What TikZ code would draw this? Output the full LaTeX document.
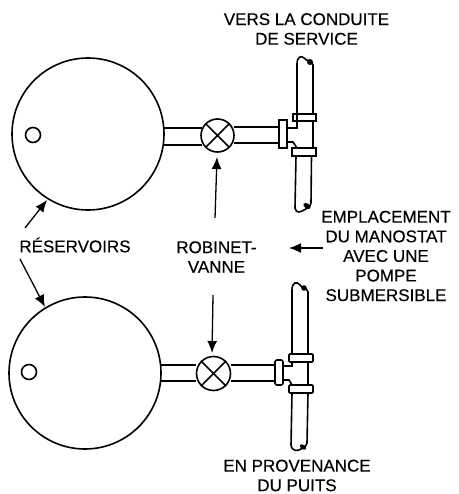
\documentclass[tikz,border=0pt]{standalone}
\usepackage{fontspec}
\setmainfont[FakeBold=0.25]{Liberation Sans}
\usetikzlibrary{arrows.meta}
\begin{document}
\begin{tikzpicture}[x=1pt,y=-1pt,
  ink/.style={draw=black,line width=1.6pt},
  lbl/.style={font=\fontsize{17}{19.6}\selectfont,align=center,inner sep=0pt,text=black},
  lead/.style={draw=black,line width=1.3pt,-{Latex[length=12pt,width=10pt]}}]
\useasboundingbox (0,0) rectangle (458,494);
% top assembly
\node[ink,circle,minimum size=152pt,inner sep=0pt] (t1) at (88,134) {};
\node[ink,circle,minimum size=15pt,inner sep=0pt] (t1h) at (33,135) {};
\node[ink,circle,minimum size=33pt,inner sep=0pt] (v1) at (217.5,135.5) {};
\draw[ink] (v1.north west)--(v1.south east) (v1.north east)--(v1.south west);
\draw[ink] (164,128)--(202,128) (164,145)--(202,145) (234,127)--(279,127) (234,143)--(279,143);
\draw[ink] (279,120) rectangle (287,148);
\draw[ink] (287,128)--(297,128)--(297,115) (287,142)--(293,142)--(297,148);
\draw[ink] (293,114) rectangle (316,121) (292,148) rectangle (316,156);
\draw[ink] (297,114)--(297,64) .. controls (297,57) and (301,55) .. (304,58) .. controls (306,61) and (311,60) .. (313,65)--(313,114);
\draw[ink] (313,121)--(313,148) (311.5,156)--(311,203) (296,156)--(295,208) .. controls (296,214) and (301,212) .. (304,210) .. controls (307,209) and (310,207) .. (311,203);
\fill (310,62) circle (3pt);
\fill[rotate around={-35:(307,206)}] (307,206) ellipse (4pt and 2.5pt);
% bottom assembly
\node[ink,circle,minimum size=152pt,inner sep=0pt] (t2) at (85,373) {};
\node[ink,circle,minimum size=15pt,inner sep=0pt] (t2h) at (29,372) {};
\node[ink,circle,minimum size=34pt,inner sep=0pt] (v2) at (213.5,373.5) {};
\draw[ink] (v2.north west)--(v2.south east) (v2.north east)--(v2.south west);
\draw[ink] (160,365)--(196,365) (160,381)--(196,381) (231,365)--(275,365) (231,381)--(275,381);
\draw[ink,rounded corners=2pt] (275,360) rectangle (283,385);
\draw[ink] (283,366)--(292,366)--(292,362) (283,380)--(289,380)--(292,385);
\draw[ink,rounded corners=1pt] (289,354) rectangle (313,362) (289,385) rectangle (313,393);
\draw[ink] (292,354)--(292,290) .. controls (292,282) and (297,281) .. (300,285) .. controls (302,289) and (307,287) .. (308,292)--(308,354);
\draw[ink] (308,362)--(308,385) (308,393)--(307,443) (292,393)--(291,445) .. controls (292,452) and (298,451) .. (301,449) .. controls (303,448) and (306,447) .. (307,443);
\fill (304,288) circle (2.8pt);
\fill[rotate around={-35:(303,447)}] (303,447) ellipse (3.5pt and 2.2pt);
% labels
\node[lbl] (a) at (306.5,29) {VERS LA CONDUITE\\DE SERVICE};
\node[lbl] (b) at (75,245) {RÉSERVOIRS};
\node[lbl] (c) at (216.5,257) {ROBINET-\\VANNE};
\node[lbl] (d) at (386,256) {EMPLACEMENT\\DU MANOSTAT\\AVEC UNE\\POMPE\\SUBMERSIBLE};
\node[lbl] (e) at (297,475.5) {EN PROVENANCE\\DU PUITS};
% leaders
\coordinate (p1) at (25,228); \coordinate (p1e) at (47,200);
\coordinate (p2) at (20,259); \coordinate (p2e) at (45,307);
\coordinate (p3) at (215,218); \coordinate (p3e) at (217,157);
\coordinate (p4) at (213,295); \coordinate (p4e) at (212,353);
\coordinate (p5) at (323,248); \coordinate (p5e) at (289,248);
\draw[lead] (p1)--(p1e);
\draw[lead] (p2)--(p2e);
\draw[lead] (p3)--(p3e);
\draw[lead] (p4)--(p4e);
\draw[lead] (p5)--(p5e);
\end{tikzpicture}
\end{document}
